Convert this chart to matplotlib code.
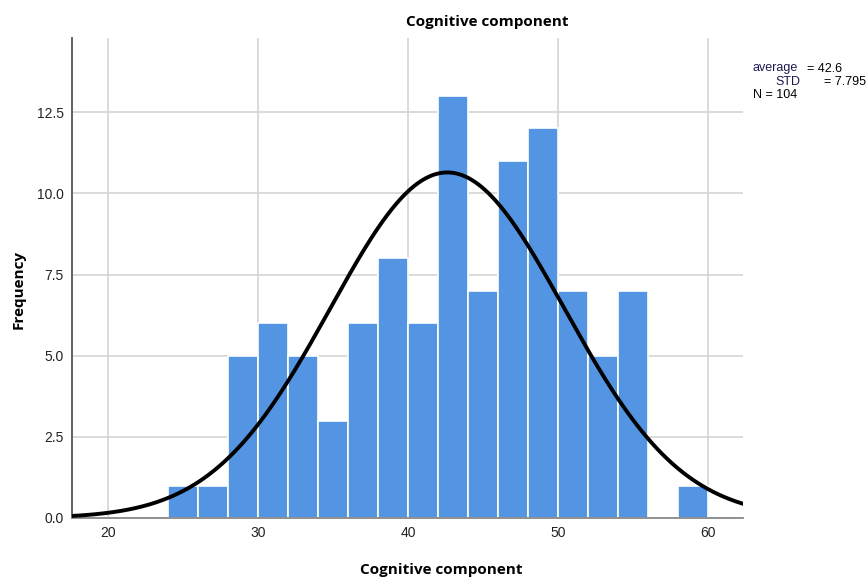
import numpy as np
import matplotlib
matplotlib.use("Agg")
import matplotlib.pyplot as plt

# histogram data (bin width 2)
bin_edges = [24, 26, 28, 30, 32, 34, 36, 38, 40, 42, 44, 46, 48, 50, 52, 54, 56, 58, 60]
counts = [1, 1, 5, 6, 5, 3, 6, 8, 6, 13, 7, 11, 12, 7, 5, 7, 0, 1]
mean_val = 42.6
std_val = 7.795
n_total = 104

xticks = [20, 30, 40, 50, 60]
yticks = [0.0, 2.5, 5.0, 7.5, 10.0, 12.5]

fig = plt.figure(figsize=(8.66, 5.79), dpi=100)
ax = fig.add_axes([0.0831, 0.1054, 0.7749, 0.8286])

widths = np.diff(bin_edges)
ax.bar(bin_edges[:-1], counts, width=widths, align='edge', color='#5495e3',
       edgecolor='white', linewidth=1.2, zorder=2)

# normal curve scaled to counts
xs = np.linspace(17.6, 62.3, 400)
bw = 2.0
ys = n_total * bw / (std_val * np.sqrt(2 * np.pi)) * np.exp(-0.5 * ((xs - mean_val) / std_val) ** 2)
ax.plot(xs, ys, color='black', linewidth=2.8, zorder=3)

ax.set_xlim(17.6, 62.3)
ax.set_ylim(0, 14.78)
ax.set_xticks(xticks)
ax.set_yticks(yticks)
ax.set_xticklabels([str(t) for t in xticks], family='Liberation Sans')
ax.set_yticklabels(['%.1f' % t for t in yticks], family='Liberation Sans')
ax.grid(True, color='#d4d4d4', linewidth=1.2, zorder=0)
ax.set_axisbelow(True)
ax.tick_params(length=0, labelsize=10, colors='#222222', pad=6)

for s in ['top', 'right']:
    ax.spines[s].set_visible(False)
ax.spines['left'].set_color('#555555')
ax.spines['bottom'].set_color('#888888')
ax.spines['left'].set_linewidth(1.3)
ax.spines['bottom'].set_linewidth(1.3)

fig.text(0.563, 0.962, 'Cognitive component', ha='center', va='center',
         fontsize=11, fontweight='bold', family='Open Sans')
fig.text(0.509, 0.015, 'Cognitive component', ha='center', va='center',
         fontsize=11, fontweight='bold', family='Open Sans')
fig.text(0.021, 0.5, 'Frequency', ha='center', va='center', rotation=90,
         fontsize=11, fontweight='bold', family='Open Sans')

# stats box
fig.text(0.869, 0.878, 'average', fontsize=9, color='#1a1a50', family='Liberation Sans')
fig.text(0.932, 0.876, '= %.1f' % mean_val, fontsize=9, family='Liberation Sans')
fig.text(0.895, 0.853, 'STD', fontsize=9, color='#1a1a50', family='Liberation Sans')
fig.text(0.951, 0.853, '= %.3f' % std_val, fontsize=9, family='Liberation Sans')
fig.text(0.869, 0.830, 'N = %d' % n_total, fontsize=9, family='Liberation Sans')

fig.savefig('out.png', dpi=100)
